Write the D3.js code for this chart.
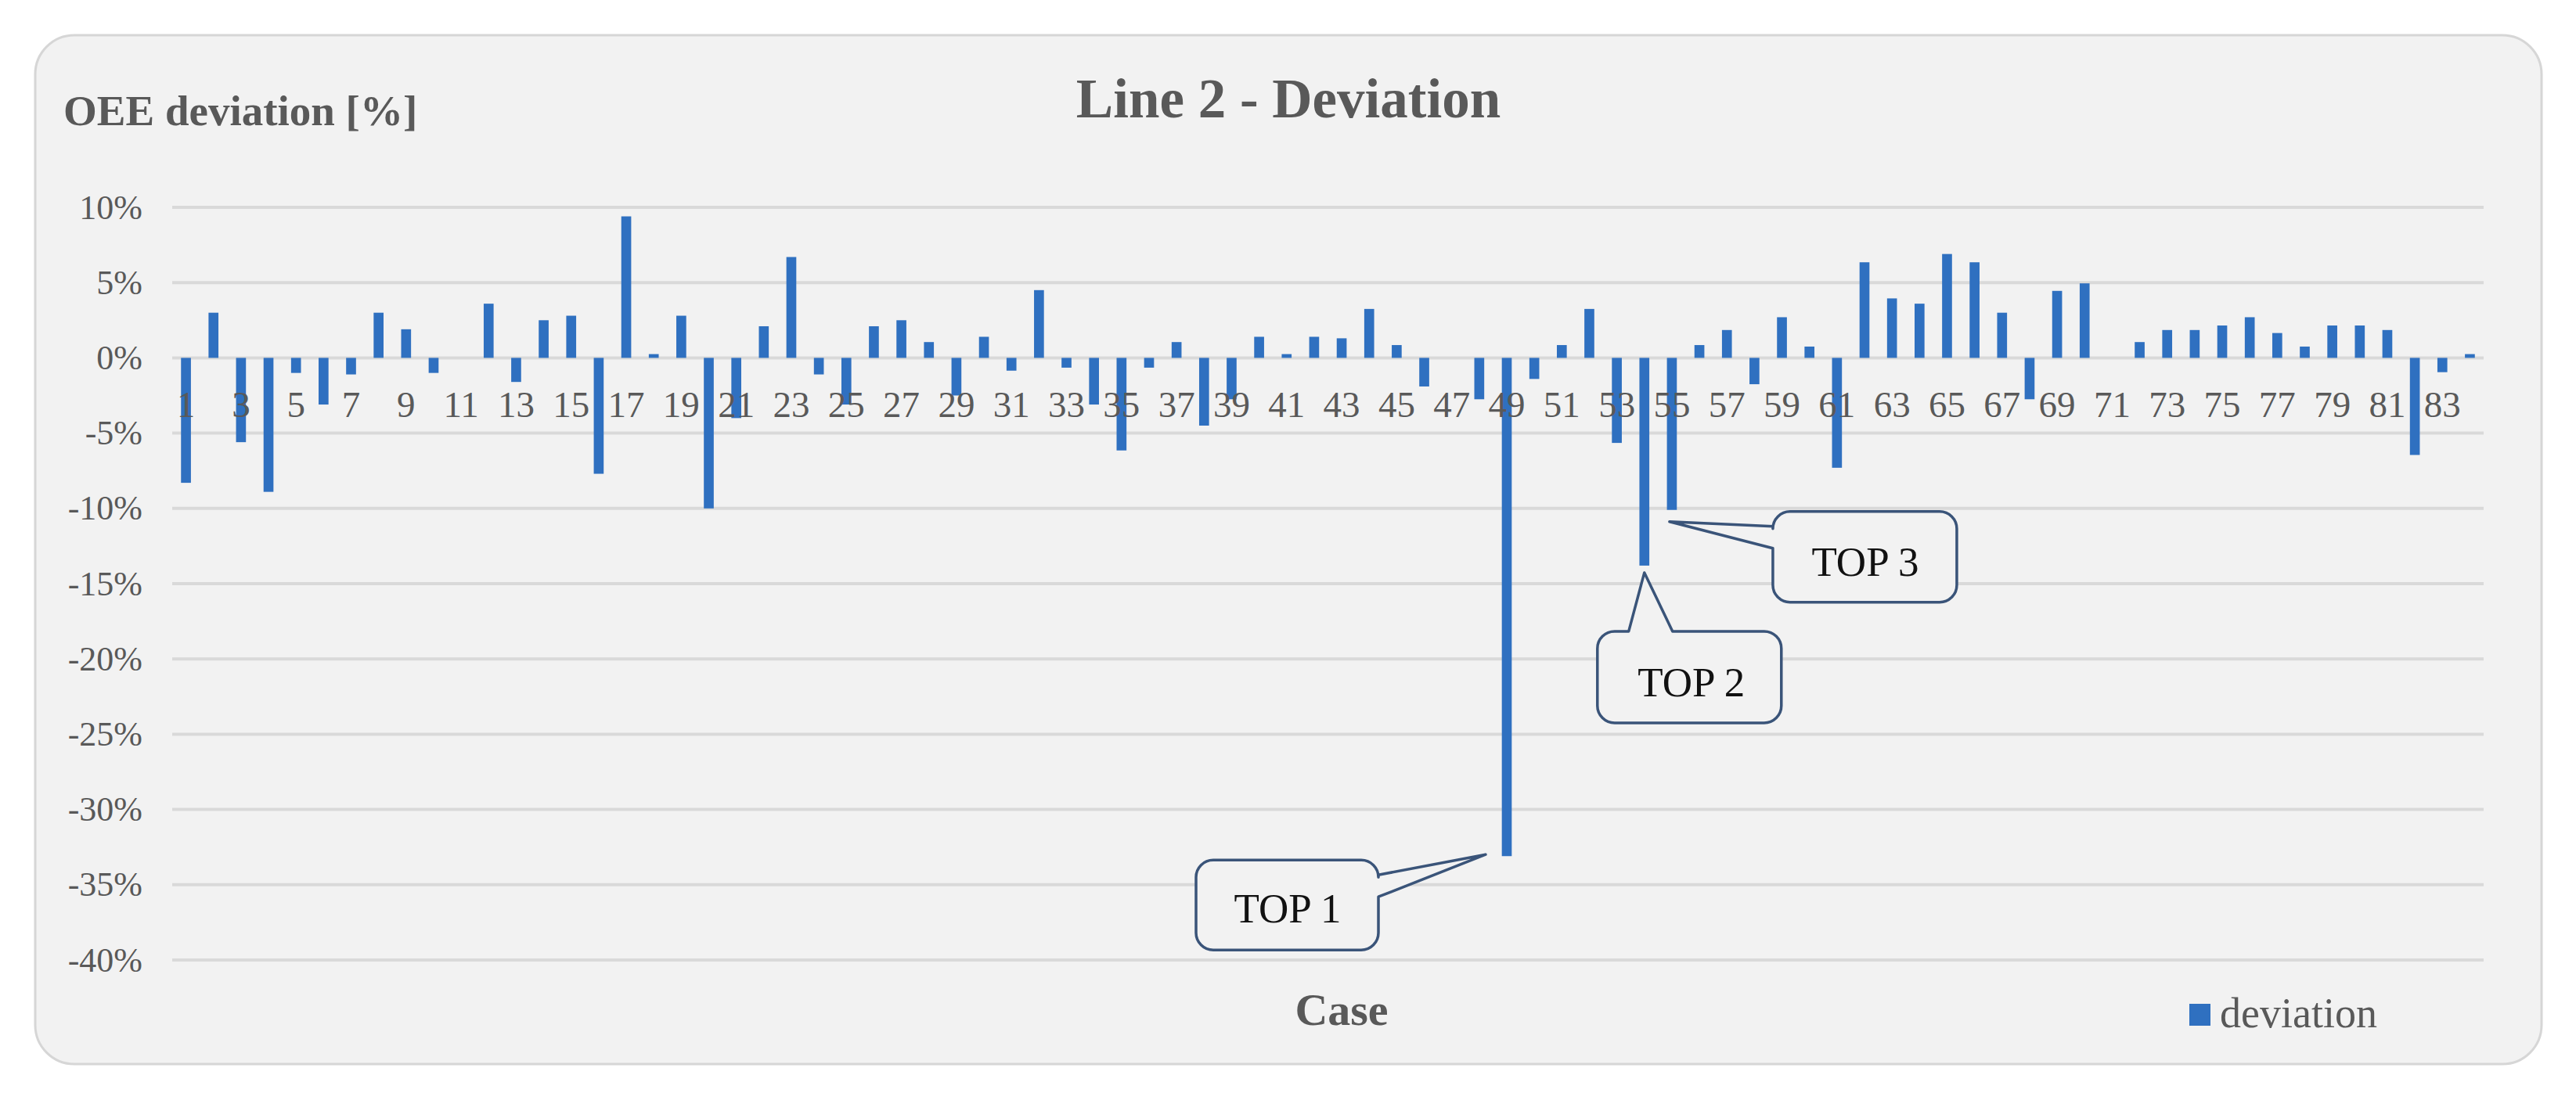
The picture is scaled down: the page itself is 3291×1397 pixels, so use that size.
<!DOCTYPE html>
<html>
<head>
<meta charset="utf-8">
<script src="https://cdn.jsdelivr.net/npm/d3@7"></script>
<style>
  html, body { margin: 0; padding: 0; background: #ffffff; }
  svg { display: block; }
</style>
</head>
<body>
<div id="chart"></div>
<script>
// ── Data ────────────────────────────────────────────────────
const cases = d3.range(1, 85);

const deviation = [
  -8.3,  3.0, -5.6, -8.9, -1.0, -3.1, -1.1,  3.0,  1.9, -1.0,
   0.0,  3.6, -1.6,  2.5,  2.8, -7.7,  9.4,  0.25, 2.8, -10.0,
  -4.0,  2.1,  6.7, -1.1, -3.1,  2.1,  2.5,  1.05,-2.5,  1.4,
  -0.85, 4.5, -0.65,-3.1, -6.15,-0.65, 1.05,-4.5, -2.75, 1.4,
   0.25, 1.4,  1.3,  3.25, 0.85,-1.9,  0.0, -2.75,-33.1,-1.4,
   0.85, 3.25,-5.65,-13.8,-10.1, 0.85, 1.85,-1.75, 2.7,  0.75,
  -7.3,  6.35, 3.95, 3.6,  6.9,  6.35, 3.0, -2.75, 4.45, 4.95,
   0.0,  1.05, 1.85, 1.85, 2.15, 2.7,  1.65, 0.75, 2.15, 2.15,
   1.85,-6.45,-0.95, 0.25
];

const yTicks = [10, 5, 0, -5, -10, -15, -20, -25, -30, -35, -40];
const xLabels = cases.filter(c => c % 2 === 1);

const callouts = [
  { label: 'TOP 1', cat: 49 },
  { label: 'TOP 2', cat: 54 },
  { label: 'TOP 3', cat: 55 }
];

const data = cases.map((c, i) => ({ cat: c, value: deviation[i] }));

// ── Layout ──────────────────────────────────────────────────
const width = 3291, height = 1397;
const plot = { left: 220, right: 3173, top: 265, bottom: 1227 };
const grey = '#595959';
const serif = '"Liberation Serif", "Times New Roman", serif';

const svg = d3.select('#chart')
  .append('svg')
  .attr('width', width)
  .attr('height', height);

// chart area box
svg.append('rect')
  .attr('x', 45).attr('y', 45)
  .attr('width', 3202).attr('height', 1315)
  .attr('rx', 50).attr('ry', 50)
  .attr('fill', '#f2f2f2')
  .attr('stroke', '#d6d6d6')
  .attr('stroke-width', 3);

// ── Scales ──────────────────────────────────────────────────
const x = d3.scaleBand()
  .domain(cases)
  .range([plot.left, plot.right])
  .paddingInner(0.64)
  .paddingOuter(0.32);

const y = d3.scaleLinear()
  .domain([-40, 10])
  .range([plot.bottom, plot.top]);

// ── Gridlines ───────────────────────────────────────────────
svg.append('g')
  .selectAll('line')
  .data(yTicks)
  .join('line')
  .attr('x1', plot.left).attr('x2', plot.right)
  .attr('y1', d => y(d)).attr('y2', d => y(d))
  .attr('stroke', '#d9d9d9')
  .attr('stroke-width', 4);

// ── Bars ────────────────────────────────────────────────────
svg.append('g')
  .selectAll('rect')
  .data(data)
  .join('rect')
  .attr('x', d => x(d.cat))
  .attr('width', x.bandwidth())
  .attr('y', d => y(Math.max(0, d.value)))
  .attr('height', d => Math.abs(y(d.value) - y(0)))
  .attr('fill', '#2f70c0');

// ── Axes ────────────────────────────────────────────────────
const yAxis = svg.append('g')
  .attr('transform', `translate(${plot.left},0)`)
  .call(d3.axisLeft(y)
    .tickValues(yTicks)
    .tickSize(0)
    .tickPadding(38)
    .tickFormat(d => `${d}%`));
yAxis.select('.domain').remove();
yAxis.selectAll('text')
  .attr('fill', grey)
  .attr('font-family', serif)
  .attr('font-size', '44px');

const xAxis = svg.append('g')
  .attr('transform', `translate(0,${y(0)})`)
  .call(d3.axisBottom(x)
    .tickValues(xLabels)
    .tickSize(0)
    .tickPadding(42));
xAxis.select('.domain').remove();
xAxis.selectAll('text')
  .attr('fill', grey)
  .attr('font-family', serif)
  .attr('font-size', '47px');

// ── Titles ──────────────────────────────────────────────────
svg.append('text')
  .attr('x', 1646).attr('y', 150)
  .attr('text-anchor', 'middle')
  .attr('fill', grey)
  .attr('font-family', serif)
  .attr('font-weight', 'bold')
  .attr('font-size', '71px')
  .text('Line 2 - Deviation');

svg.append('text')
  .attr('x', 81).attr('y', 160)
  .attr('fill', grey)
  .attr('font-family', serif)
  .attr('font-weight', 'bold')
  .attr('font-size', '55px')
  .text('OEE deviation [%]');

svg.append('text')
  .attr('x', 1714).attr('y', 1310)
  .attr('text-anchor', 'middle')
  .attr('fill', grey)
  .attr('font-family', serif)
  .attr('font-weight', 'bold')
  .attr('font-size', '58px')
  .text('Case');

// ── Legend ──────────────────────────────────────────────────
const legend = svg.append('g')
  .attr('transform', 'translate(2797,1283)');

legend.append('rect')
  .attr('width', 27).attr('height', 28)
  .attr('fill', '#2f70c0');

legend.append('text')
  .attr('x', 39).attr('y', 30)
  .attr('fill', grey)
  .attr('font-family', serif)
  .attr('font-size', '54px')
  .text('deviation');

// ── Callouts ────────────────────────────────────────────────
// rounded box with a pointer on one side (a1/a2 = where the pointer meets the side)
function calloutPath(bx, by, w, h, r, side, a1, a2, tx, ty) {
  const p = d3.path();
  p.moveTo(bx + r, by);
  if (side === 'top') { p.lineTo(a1, by); p.lineTo(tx, ty); p.lineTo(a2, by); }
  p.lineTo(bx + w - r, by);
  p.arcTo(bx + w, by, bx + w, by + r, r);
  if (side === 'right') { p.lineTo(bx + w, a1); p.lineTo(tx, ty); p.lineTo(bx + w, a2); }
  p.lineTo(bx + w, by + h - r);
  p.arcTo(bx + w, by + h, bx + w - r, by + h, r);
  p.lineTo(bx + r, by + h);
  p.arcTo(bx, by + h, bx, by + h - r, r);
  if (side === 'left') { p.lineTo(bx, a2); p.lineTo(tx, ty); p.lineTo(bx, a1); }
  p.lineTo(bx, by + r);
  p.arcTo(bx, by, bx + r, by, r);
  p.closePath();
  return p.toString();
}

// placement relative to the end of each annotated bar
const calloutPlace = {
  'TOP 1': { side: 'right', tip: [-27, -2], box: [-397, 5, 233, 115], a: [24, 52], text: [-280, 85] },
  'TOP 2': { side: 'top',   tip: [0, 9],    box: [-60, 84, 235, 117], a: [-20, 36], text: [60, 167] },
  'TOP 3': { side: 'left',  tip: [-3, 15],  box: [129, 2, 235, 116],  a: [21, 49],  text: [247, 84] }
};

callouts.forEach(c => {
  const d = data.find(e => e.cat === c.cat);
  const ax = x(d.cat) + x.bandwidth() / 2;
  const ay = y(d.value);
  const pl = calloutPlace[c.label];
  const [bx, by, w, h] = pl.box;
  const a1 = pl.side === 'top' ? ax + pl.a[0] : ay + pl.a[0];
  const a2 = pl.side === 'top' ? ax + pl.a[1] : ay + pl.a[1];

  svg.append('path')
    .attr('d', calloutPath(ax + bx, ay + by, w, h, 22, pl.side, a1, a2,
                           ax + pl.tip[0], ay + pl.tip[1]))
    .attr('fill', '#f2f2f2')
    .attr('stroke', '#3a5479')
    .attr('stroke-width', 3.5)
    .attr('stroke-linejoin', 'round');

  svg.append('text')
    .attr('x', ax + pl.text[0]).attr('y', ay + pl.text[1])
    .attr('text-anchor', 'middle')
    .attr('fill', '#111111')
    .attr('font-family', serif)
    .attr('font-size', '53px')
    .text(c.label);
});
</script>
</body>
</html>
